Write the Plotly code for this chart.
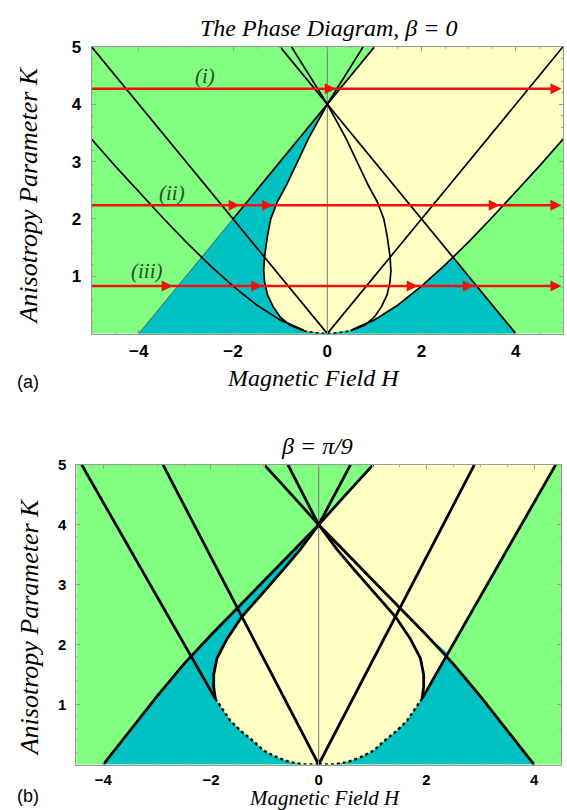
import plotly.graph_objects as go

# ---------------- colours ----------------
GREEN = "#80FF80"
YELLOW = "#FFFFC4"
CYAN = "#00C2C2"
RED = "#F01010"
LABEL = "#2c4a2c"

# ================= panel (a): beta = 0 =================
# outer boundary, right branch (left branch is its mirror)
hyp_a_H = [0.5, 1.0, 1.5, 2.0, 2.5, 3.0, 3.5, 4.0, 4.5, 5.0]
hyp_a_K = [0.06, 0.24, 0.5, 0.83, 1.2, 1.6, 2.03, 2.47, 2.92, 3.39]

# tear-drop, right side from the bottom up to the cusp at (0, 4)
tear_a_H = [0.5, 0.8, 1.0, 1.15, 1.27, 1.33, 1.35, 1.33, 1.27, 1.2, 1.06, 0.88, 0.64, 0.4, 0.2, 0.0]
tear_a_K = [0.05, 0.15, 0.29, 0.47, 0.68, 0.9, 1.1, 1.35, 1.7, 2.0, 2.3, 2.57, 2.98, 3.4, 3.7, 4.0]
# continuation of each tear-drop side above K = 4
steep_a_H = [0.0, -0.38, -0.76]
steep_a_K = [4.0, 4.5, 5.0]

# straight lines
diag_a_H = [-5, 0, 5]
diag_a_K = [5, 0, 5]
up_a_H = [-2.0, 1.0]          # K = 4 + H (drawn part)
up_a_K = [2.0, 5.0]
up_low_a_H = [-4.0, -2.0]
up_low_a_K = [0.0, 2.0]
down_a_H = [-1.0, 2.66, 4.0]  # K = 4 - H
down_a_K = [5.0, 1.34, 0.0]
dot_a_H = [-0.5, -0.25, 0.0, 0.25, 0.5]
dot_a_K = [0.05, 0.015, 0.0, 0.015, 0.05]

# field sweeps (red arrows)
sweep_K = [4.27, 2.24, 0.83]
sweep_tips = [[0.18, 4.97], [-1.86, -1.15, 3.66, 4.97], [-3.28, -1.38, 1.92, 3.11, 4.97]]
sweep_labels = ["(i)", "(ii)", "(iii)"]
sweep_label_H = [-2.59, -3.3, -3.83]
sweep_label_K = [4.5, 2.45, 1.1]

# ================= panel (b): beta = pi/9 =================
# boundary from (-4, 0) through (0, 4) up to the top edge
bndA_H = [-4.0, -3.5, -3.0, -2.5, -2.0, -1.5, -1.0, -0.5, 0.0, 0.5, 1.01]
bndA_K = [0.0, 0.58, 1.14, 1.68, 2.16, 2.62, 3.08, 3.54, 4.0, 4.5, 5.0]
# mirror boundary from (4, 0) through (0, 4)
bndB_H = [4.0, 3.5, 3.0, 2.5, 2.0, 1.5, 1.0, 0.5, 0.0, -0.5, -1.01]
bndB_K = [0.0, 0.58, 1.14, 1.68, 2.16, 2.62, 3.08, 3.54, 4.0, 4.5, 5.0]
# tear-drop sides from (0, 4) down to the cusps
tearL_b_H = [0.0, -0.34, -0.65, -1.08, -1.43, -1.70, -1.89, -1.95, -1.95, -1.92]
tearL_b_K = [4.0, 3.59, 3.26, 2.82, 2.46, 2.10, 1.77, 1.50, 1.30, 1.10]
tearR_b_H = [0.0, 0.34, 0.65, 1.08, 1.43, 1.70, 1.89, 1.95, 1.95, 1.92]
tearR_b_K = [4.0, 3.59, 3.26, 2.82, 2.46, 2.10, 1.77, 1.50, 1.30, 1.10]
# dotted lower boundaries from the cusps down to the origin
dotL_b_H = [-1.92, -1.64, -1.46, -1.2, -1.02, -0.75, -0.53, -0.28, 0.0]
dotL_b_K = [1.10, 0.73, 0.57, 0.38, 0.23, 0.11, 0.04, 0.0, 0.0]
dotR_b_H = [1.92, 1.64, 1.46, 1.2, 1.02, 0.75, 0.53, 0.28, 0.0]
dotR_b_K = [1.10, 0.73, 0.57, 0.38, 0.23, 0.11, 0.04, 0.0, 0.0]
# straight lines
cuspL_b_H = [-4.4, -1.92]
cuspL_b_K = [5.0, 1.10]
cuspR_b_H = [4.4, 1.92]
cuspR_b_K = [5.0, 1.10]
vee_b_H = [-2.89, 0.0, 2.89]
vee_b_K = [5.0, 0.0, 5.0]
steepL_b_H = [-0.57, 0.0]
steepL_b_K = [5.0, 4.0]
steepR_b_H = [0.59, 0.0]
steepR_b_K = [5.0, 4.0]
meet_b = (2.42, 1.84)   # where the right cusp line meets the right boundary

fig = go.Figure()


def area(xs, ys, color, ax):
    fig.add_trace(go.Scatter(x=xs, y=ys, mode="lines", fill="toself", fillcolor=color,
                             line=dict(width=0, color=color), hoverinfo="skip",
                             showlegend=False, xaxis="x" + ax, yaxis="y" + ax))


def curve(xs, ys, ax, width, color="black", dash="solid"):
    fig.add_trace(go.Scatter(x=xs, y=ys, mode="lines",
                             line=dict(width=width, color=color, dash=dash),
                             hoverinfo="skip", showlegend=False,
                             xaxis="x" + ax, yaxis="y" + ax))


# ---------- panel (a) regions ----------
tearL_a_H = [-h for h in tear_a_H]
hypL_a_H = [-h for h in hyp_a_H]
# yellow: right of the upper line and the left tear-drop side, above the right branch
area([1.0, 0.0] + tearL_a_H[::-1] + [0.0] + hyp_a_H + [5.0, 5.0],
     [5.0, 4.0] + tear_a_K[::-1] + [0.0] + hyp_a_K + [5.0, 5.0], YELLOW, "")
# cyan, left
area([-4.0, 0.0] + tearL_a_H[::-1] + [0.0, -4.0],
     [0.0, 4.0] + tear_a_K[::-1] + [0.0, 0.0], CYAN, "")
# cyan, right
area([0.0] + [h for h in hyp_a_H if h <= 2.5] + [2.66, 4.0, 0.0],
     [0.0] + [k for h, k in zip(hyp_a_H, hyp_a_K) if h <= 2.5] + [1.34, 0.0, 0.0], CYAN, "")

# ---------- panel (a) lines ----------
curve([0, 0], [0, 5], "", 1, "#777777")
curve(up_low_a_H, up_low_a_K, "", 1, "#555555")
W_A = 1.7
curve(diag_a_H, diag_a_K, "", W_A)
curve(up_a_H, up_a_K, "", W_A)
curve(down_a_H, down_a_K, "", W_A)
curve(hyp_a_H, hyp_a_K, "", W_A)
curve(hypL_a_H, hyp_a_K, "", W_A)
curve(tear_a_H + steep_a_H[1:], tear_a_K + steep_a_K[1:], "", W_A)
curve(tearL_a_H + [-h for h in steep_a_H[1:]], tear_a_K + steep_a_K[1:], "", W_A)
curve(dot_a_H, dot_a_K, "", 1.8, dash="dot")

# red field sweeps
for k in sweep_K:
    curve([-5, 4.9], [k, k], "", 2.6, RED)

# ---------- panel (b) regions ----------
area(bndA_H[::-1][:3] + tearL_b_H + dotL_b_H[1:] + dotR_b_H[::-1][1:] + cuspR_b_H[::-1] + [4.4],
     bndA_K[::-1][:3] + tearL_b_K + dotL_b_K[1:] + dotR_b_K[::-1][1:] + cuspR_b_K[::-1] + [5.0],
     YELLOW, "2")
area(bndA_H[:9] + tearL_b_H[1:] + dotL_b_H[1:] + [-4.0],
     bndA_K[:9] + tearL_b_K[1:] + dotL_b_K[1:] + [0.0], CYAN, "2")
area([cuspR_b_H[1], meet_b[0]] + bndB_H[:5][::-1] + dotR_b_H[::-1],
     [cuspR_b_K[1], meet_b[1]] + bndB_K[:5][::-1] + dotR_b_K[::-1], CYAN, "2")

# ---------- panel (b) lines ----------
curve([0, 0], [0, 5], "2", 1, "#777777")
W_B = 2.8
curve(bndA_H, bndA_K, "2", W_B)
curve(bndB_H, bndB_K, "2", W_B)
curve(tearL_b_H, tearL_b_K, "2", W_B)
curve(tearR_b_H, tearR_b_K, "2", W_B)
curve(cuspL_b_H, cuspL_b_K, "2", W_B)
curve(cuspR_b_H, cuspR_b_K, "2", W_B)
curve(vee_b_H, vee_b_K, "2", W_B)
curve(steepL_b_H, steepL_b_K, "2", W_B)
curve(steepR_b_H, steepR_b_K, "2", W_B)
curve(dotL_b_H, dotL_b_K, "2", 2.4, dash="dot")
curve(dotR_b_H, dotR_b_K, "2", 2.4, dash="dot")

# ---------- annotations ----------
SERIF = "Liberation Serif"
SANS = "Liberation Sans"
ann = []
for k, tips in zip(sweep_K, sweep_tips):
    for t in tips:
        ann.append(dict(x=t, y=k, ax=t - 0.25, ay=k, xref="x", yref="y", axref="x", ayref="y",
                        text="", showarrow=True, arrowhead=2, arrowsize=0.85, arrowwidth=2.6,
                        arrowcolor=RED, standoff=0))
for txt, h, k in zip(sweep_labels, sweep_label_H, sweep_label_K):
    ann.append(dict(x=h, y=k, xref="x", yref="y", text=txt, showarrow=False,
                    font=dict(family=SERIF, size=21, color=LABEL, style="italic")))


def paper_text(txt, x, y, size, family=SERIF, style="italic", weight="normal", angle=0):
    ann.append(dict(x=x, y=y, xref="paper", yref="paper", text=txt, showarrow=False,
                    textangle=angle, xanchor="center", yanchor="middle",
                    font=dict(family=family, size=size, color="black", style=style, weight=weight)))


paper_text("The Phase Diagram, β = 0", 0.58, 0.9765, 24)
paper_text("Anisotropy Parameter K", 0.051, 0.767, 26, angle=-90)
paper_text("Magnetic Field H", 0.553, 0.5395, 24)
paper_text("(a)", 0.049, 0.5346, 18, family=SANS, style="normal")
paper_text("β = π/9", 0.559, 0.4547, 24)
paper_text("Anisotropy Parameter K", 0.051, 0.228, 26, angle=-90)
paper_text("Magnetic Field H", 0.574, 0.0155, 21)
paper_text("(b)", 0.049, 0.017, 18, family=SANS, style="normal")

TICKFONT_A = dict(family=SANS, size=17, color="black", weight="bold")
TICKFONT_B = dict(family=SANS, size=15, color="black", weight="bold")


def axis(domain, rng, tickvals, anchor, minor_dtick, standoff, font):
    return dict(domain=domain, range=rng, tickvals=tickvals, anchor=anchor,
                showgrid=False, zeroline=False, showline=True, linecolor="#999999",
                linewidth=1, mirror="allticks", ticks="inside", ticklen=4,
                tickcolor="#999999", tickfont=font, ticklabelstandoff=standoff,
                minor=dict(ticks="inside", ticklen=2, dtick=minor_dtick, tickcolor="#aaaaaa"))


fig.update_layout(
    width=567, height=810, margin=dict(l=0, r=0, t=0, b=0),
    paper_bgcolor="white", plot_bgcolor=GREEN, showlegend=False,
    xaxis=axis([0.1617, 0.9928], [-5, 5], [-4, -2, 0, 2, 4], "y", 0.5, 2, TICKFONT_A),
    yaxis=axis([0.5947, 0.9527], [0, 5], [1, 2, 3, 4, 5], "x", 0.2, 6, TICKFONT_A),
    xaxis2=axis([0.1347, 0.9894], [-4.5, 4.5], [-4, -2, 0, 2, 4], "y2", 0.5, 1, TICKFONT_B),
    yaxis2=axis([0.0568, 0.4309], [0, 5], [1, 2, 3, 4, 5], "x2", 0.2, 6, TICKFONT_B),
    annotations=ann,
)

fig.write_html("out.html")
